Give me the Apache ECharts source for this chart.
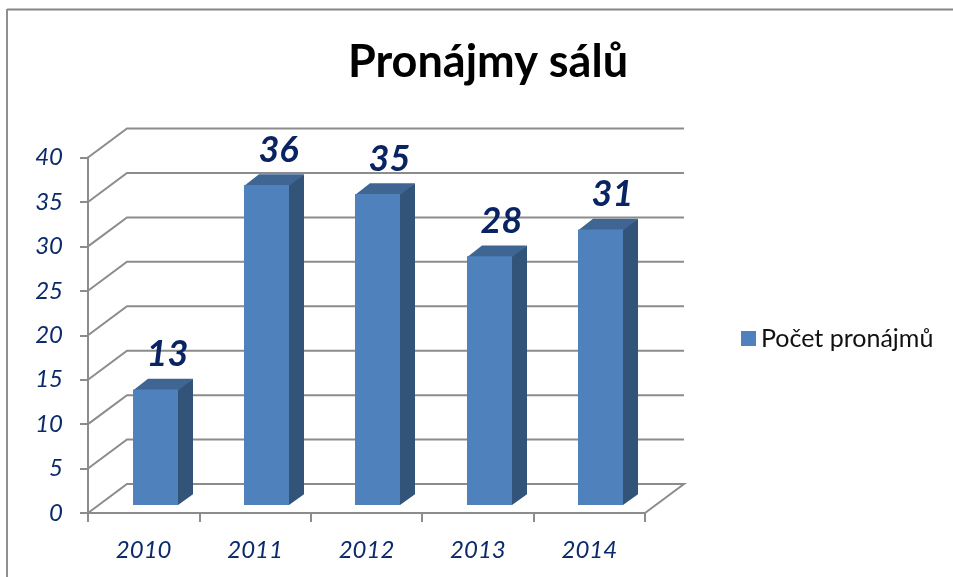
<!DOCTYPE html>
<html><head><meta charset="utf-8">
<style>html,body{margin:0;padding:0;background:#fff}#c{width:953px;height:577px}</style>
<script src="https://cdn.jsdelivr.net/npm/echarts@6/dist/echarts.min.js"></script>
</head><body><div id="c"></div>
<script>
const categories = ['2010','2011','2012','2013','2014'];
const values = [13,36,35,28,31];
const yTicks = [0,5,10,15,20,25,30,35,40];
const seriesName = 'Počet pronájmů';
const titleText = 'Pronájmy sálů';

const FONT = 'Lato, Carlito, "Open Sans", sans-serif';
const NAVY = '#0b2a6b', GREY = '#8c8c8c';
const WALL_DX = 39, WALL_DY = -29;
const BAR_DX = 11.3, BAR_DY = -8, BAR_W = 45, D_X = 15, D_Y = -10.7;

const chart = echarts.init(document.getElementById('c'), null, {renderer:'canvas'});
chart.setOption({
  animation:false,
  backgroundColor:'#fff',
  title:{text:titleText,left:483,top:35,textAlign:'center',
    textStyle:{fontFamily:FONT,fontWeight:'bold',fontSize:45,color:'#000'}},
  legend:{data:[{name:seriesName,icon:'rect'}],left:736,top:321,orient:'vertical',itemWidth:15,itemHeight:15,itemGap:0,
    selectedMode:false,
    textStyle:{fontFamily:FONT,fontSize:25,color:'#111',padding:[0,0,0,0]}},
  grid:{left:88,right:308,top:157.5,bottom:64,containLabel:false},
  xAxis:{type:'category',data:categories,boundaryGap:true,
    axisLine:{lineStyle:{color:GREY,width:2}},
    axisTick:{show:true,length:9,lineStyle:{color:GREY,width:2}},
    axisLabel:{margin:25,fontFamily:FONT,fontStyle:'italic',fontSize:24,color:NAVY},
    splitLine:{show:false}},
  yAxis:{type:'value',min:0,max:40,interval:5,
    axisLine:{show:true,lineStyle:{color:GREY,width:2}},
    axisTick:{show:true,length:8,lineStyle:{color:GREY,width:2}},
    axisLabel:{margin:25,fontFamily:FONT,fontStyle:'italic',fontSize:24,color:NAVY},
    splitLine:{show:false}},
  graphic:[
    {type:'line',silent:true,shape:{x1:7,y1:9.5,x2:953,y2:9.5},style:{stroke:'#868686',lineWidth:2}},
    {type:'line',silent:true,shape:{x1:7,y1:9,x2:7,y2:577},style:{stroke:'#8f8f8f',lineWidth:2}}
  ],
  series:[
    {type:'custom',name:'walls',silent:true,z:1,clip:false,data:yTicks.map(v=>[0,v]),
     encode:{x:0,y:1},
     renderItem(params,api){
       const v=api.value(1), y=api.coord([0,v])[1], cs=params.coordSys;
       const L=cs.x,R=cs.x+cs.width;
       const pts=[[L,y],[L+WALL_DX,y+WALL_DY],[R+WALL_DX,y+WALL_DY]];
       if(v===0) pts.push([R,y]);
       return {type:'polyline',shape:{points:pts},style:{stroke:GREY,lineWidth:2,fill:null}};
     }},
    {type:'custom',name:seriesName,z:3,clip:false,
     itemStyle:{color:'#4f81bd'},
     data:values.map((v,i)=>[i,v]),encode:{x:0,y:1},
     renderItem(params,api){
       const i=api.value(0), v=api.value(1);
       const top=api.coord([i,v]), base=api.coord([i,0]);
       const x0=Math.round(top[0]+BAR_DX-BAR_W/2), x1=x0+BAR_W, yt=top[1]+BAR_DY, yb=base[1]+BAR_DY;
       return {type:'group',children:[
         {type:'polygon',shape:{points:[[x1-1,yt],[x1+D_X,yt+D_Y],[x1+D_X,yb+D_Y],[x1,yb],[x1-1,yb]]},style:{fill:'#335479'}},
         {type:'polygon',shape:{points:[[x0,yt+1],[x0+D_X,yt+D_Y],[x1+D_X,yt+D_Y],[x1,yt+1]]},style:{fill:'#3f6592'}},
         {type:'rect',shape:{x:x0,y:yt,width:BAR_W,height:yb-yt},style:{fill:'#4f81bd'}},
         {type:'text',x:x0+BAR_W/2+12,y:yt-35,style:{text:String(v),align:'center',verticalAlign:'middle',
           font:'italic bold 36px '+FONT,fill:'#0a2463'}}
       ]};
     }}
  ]
});
</script></body></html>
